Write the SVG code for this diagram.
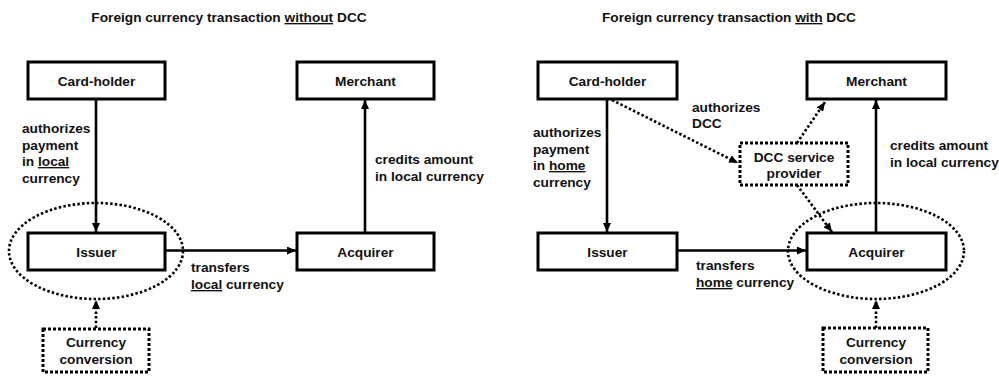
<svg xmlns="http://www.w3.org/2000/svg" width="999" height="376" viewBox="0 0 999 376">
<style>
text{font-family:"Liberation Sans",Arial,sans-serif;font-weight:bold;font-size:13.7px;fill:#111}
.c{text-anchor:middle}
.box{fill:#fff;stroke:#000;stroke-width:3}
.dbox{fill:#fff;stroke:#000;stroke-width:3;stroke-dasharray:3 2}
.ln{stroke:#000;stroke-width:2.6;fill:none}
.dl{stroke:#000;stroke-width:2.6;fill:none;stroke-dasharray:2.5 2.2}
.u{text-decoration:underline}
</style>
<defs>
<marker id="ah" markerUnits="userSpaceOnUse" markerWidth="9" markerHeight="8" refX="9" refY="4" orient="auto"><path d="M0,0 L9,4 L0,8 z" fill="#000"/></marker>
</defs>
<text class="c" x="229" y="22">Foreign currency transaction <tspan class="u">without</tspan> DCC</text>
<text class="c" x="729" y="22">Foreign currency transaction <tspan class="u">with</tspan> DCC</text>
<g id="connectors">
<line class="ln" x1="96" y1="99" x2="96" y2="232" marker-end="url(#ah)"/>
<line class="ln" x1="165" y1="250.5" x2="296" y2="250.5" marker-end="url(#ah)"/>
<line class="ln" x1="365" y1="233" x2="365" y2="100" marker-end="url(#ah)"/>
<ellipse class="dl" cx="96" cy="251" rx="87" ry="48"/>
<line class="dl" x1="96" y1="328" x2="96" y2="300" marker-end="url(#ah)"/>
<line class="ln" x1="607" y1="99" x2="607" y2="232" marker-end="url(#ah)"/>
<line class="ln" x1="677" y1="250.5" x2="806" y2="250.5" marker-end="url(#ah)"/>
<line class="ln" x1="876" y1="233" x2="876" y2="100" marker-end="url(#ah)"/>
<ellipse class="dl" cx="876" cy="251" rx="88" ry="48"/>
<line class="dl" x1="876" y1="328" x2="876" y2="300" marker-end="url(#ah)"/>
<line class="dl" x1="612" y1="100" x2="738" y2="163" marker-end="url(#ah)"/>
<line class="dl" x1="797" y1="143" x2="825" y2="102" marker-end="url(#ah)"/>
<line class="dl" x1="797" y1="185" x2="832" y2="232" marker-end="url(#ah)"/>
</g>
<g id="l-cardholder"><rect class="box" x="28" y="62" width="137" height="37"/><text class="c" x="96.5" y="86">Card-holder</text></g>
<g id="l-merchant"><rect class="box" x="297" y="62" width="137" height="37"/><text class="c" x="365.5" y="86">Merchant</text></g>
<g id="l-issuer"><rect class="box" x="28" y="233" width="137" height="37"/><text class="c" x="96.5" y="257">Issuer</text></g>
<g id="l-acquirer"><rect class="box" x="297" y="233" width="137" height="37"/><text class="c" x="365.5" y="257">Acquirer</text></g>
<g id="l-conversion"><rect class="dbox" x="43" y="329" width="106" height="43"/><text class="c" x="96" y="347">Currency</text><text class="c" x="96" y="364">conversion</text></g>
<g id="r-cardholder"><rect class="box" x="538" y="62" width="139" height="37"/><text class="c" x="607.5" y="86">Card-holder</text></g>
<g id="r-merchant"><rect class="box" x="807" y="62" width="139" height="37"/><text class="c" x="876.5" y="86">Merchant</text></g>
<g id="r-issuer"><rect class="box" x="538" y="233" width="139" height="37"/><text class="c" x="607.5" y="257">Issuer</text></g>
<g id="r-acquirer"><rect class="box" x="807" y="233" width="139" height="37"/><text class="c" x="876.5" y="257">Acquirer</text></g>
<g id="r-dcc"><rect class="dbox" x="740" y="143" width="108" height="42"/><text class="c" x="794" y="162">DCC service</text><text class="c" x="794" y="178">provider</text></g>
<g id="r-conversion"><rect class="dbox" x="823" y="328" width="105" height="44"/><text class="c" x="876" y="347">Currency</text><text class="c" x="876" y="364">conversion</text></g>
<g id="labels">
<text x="22" y="133">authorizes</text>
<text x="22" y="150">payment</text>
<text x="22" y="166">in <tspan class="u">local</tspan></text>
<text x="22" y="183">currency</text>
<text x="375" y="164">credits amount</text>
<text x="375" y="181">in local currency</text>
<text x="191" y="272">transfers</text>
<text x="191" y="289"><tspan class="u">local</tspan> currency</text>
<text x="533" y="137">authorizes</text>
<text x="533" y="154">payment</text>
<text x="533" y="170">in <tspan class="u">home</tspan></text>
<text x="533" y="187">currency</text>
<text x="692" y="112">authorizes</text>
<text x="692" y="128">DCC</text>
<text x="890" y="150">credits amount</text>
<text x="890" y="167">in local currency</text>
<text x="696" y="270">transfers</text>
<text x="696" y="287"><tspan class="u">home</tspan> currency</text>
</g>
</svg>
